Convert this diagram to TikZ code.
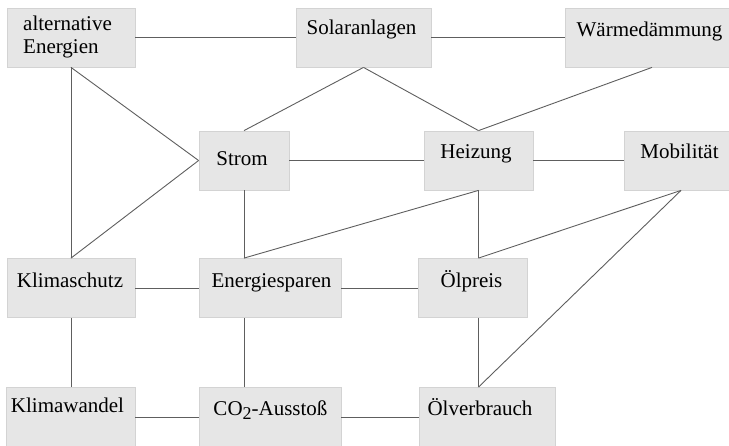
\documentclass[tikz,border=0pt]{standalone}
\usepackage{fontspec}
\setmainfont{Liberation Serif}
\definecolor{boxfill}{HTML}{E6E6E6}
\definecolor{boxedge}{HTML}{D3D3D3}
\definecolor{wirecol}{HTML}{5E5E5E}
\begin{document}
\begin{tikzpicture}[x=1pt,y=-1pt,
  box/.style={draw=boxedge, fill=boxfill, line width=0.8pt, inner sep=0pt,
              minimum height=59pt, rectangle},
  lbl/.style={anchor=base, inner sep=0pt, font=\fontsize{21}{23}\selectfont},
  lblw/.style={anchor=base west, inner sep=0pt, font=\fontsize{21}{23}\selectfont},
  wire/.style={draw=wirecol, line width=0.9pt}]
\useasboundingbox (0,0) rectangle (729,445);

% boxes
\node[box, minimum width=128pt] (ae)  at (71,37.5)  {};
\node[box, minimum width=135pt] (sol) at (363.5,37.5) {};
\node[box, minimum width=174pt] (wd)  at (652,37.5) {};
\node[box, minimum width=90pt]  (st)  at (244,160.5) {};
\node[box, minimum width=109pt] (hz)  at (478.5,160.5) {};
\node[box, minimum width=114pt] (mob) at (681,160.5) {};
\node[box, minimum width=128pt] (ks)  at (71,288) {};
\node[box, minimum width=142pt] (es)  at (270,288) {};
\node[box, minimum width=109pt] (op)  at (472.5,288) {};
\node[box, minimum width=129pt] (kw)  at (70.5,417) {};
\node[box, minimum width=142pt] (co)  at (270,417) {};
\node[box, minimum width=136pt] (ov)  at (487,417) {};

% labels
\node[lblw] (tae1) at (23,30)   {alternative};
\node[lblw] (tae2) at (23,53.5) {Energien};
\node[lbl] (tsol) at (361.5,34) {Solaranlagen};
\node[lbl] (twd)  at (649.5,36) {Wärmedämmung};
\node[lbl] (tst)  at (242,165)  {Strom};
\node[lbl] (thz)  at (476,158)  {Heizung};
\node[lbl] (tmob) at (679.5,158) {Mobilität};
\node[lbl] (tks)  at (70,287)   {Klimaschutz};
\node[lbl] (tes)  at (271.5,287) {Energiesparen};
\node[lbl] (top)  at (471.5,287) {Ölpreis};
\node[lbl] (tkw)  at (67.5,412) {Klimawandel};
\node[lbl] (tco)  at (270.5,415) {CO\raisebox{-4.5pt}{\fontsize{18}{18}\selectfont 2}-Ausstoß};
\node[lbl] (tov)  at (480,415)  {Ölverbrauch};

% connections
\draw[wire] (ae.east) -- (sol.west);
\draw[wire] (sol.east) -- (wd.west);
\draw[wire] (sol.south) -- (st.north);
\draw[wire] (sol.south) -- (hz.north);
\draw[wire] (wd.south) -- (hz.north);
\draw[wire] (ae.south) -- (st.west);
\draw[wire] (st.west) -- (ks.north);
\draw[wire] (ae.south) -- (ks.north);
\draw[wire] (st.east) -- (hz.west);
\draw[wire] (hz.east) -- (mob.west);
\draw[wire] (st.south) -- (es.north -| st.south);
\draw[wire] (hz.south) -- (es.north -| st.south);
\draw[wire] (hz.south) -- (op.north -| hz.south);
\draw[wire] (mob.south) -- (op.north -| hz.south);
\draw[wire] (mob.south) -- (ov.north -| hz.south);
\draw[wire] (ks.east) -- (es.west);
\draw[wire] (es.east) -- (op.west);
\draw[wire] (ks.south) -- (kw.north -| ks.south);
\draw[wire] (es.south -| st.south) -- (co.north -| st.south);
\draw[wire] (op.south -| hz.south) -- (ov.north -| hz.south);
\draw[wire] (kw.east) -- (co.west);
\draw[wire] (co.east) -- (ov.west);
\end{tikzpicture}
\end{document}
